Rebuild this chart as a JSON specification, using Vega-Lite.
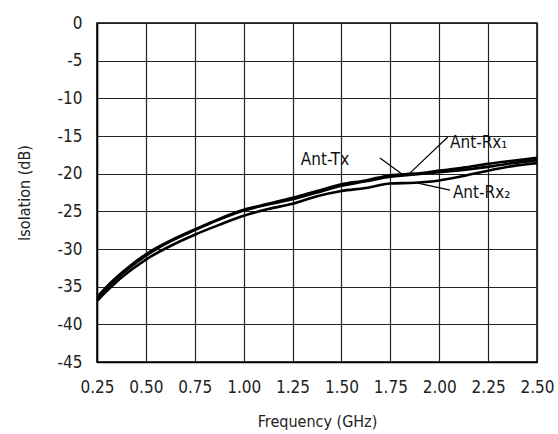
{
  "$schema": "https://vega.github.io/schema/vega-lite/v6.json",
  "autosize": "none",
  "width": 440,
  "height": 339,
  "padding": {"left": 97, "top": 23, "right": 21, "bottom": 72},
  "background": "white",
  "config": {
    "view": {"stroke": "black", "strokeWidth": 1.5},
    "font": "DejaVu Sans Condensed, sans-serif",
    "axis": {
      "labelFont": "DejaVu Sans Condensed, sans-serif",
      "titleFont": "DejaVu Sans Condensed, sans-serif",
      "labelFontSize": 17,
      "titleFontSize": 16,
      "titleFontWeight": "normal",
      "labelColor": "#222",
      "titleColor": "#222",
      "gridColor": "#222",
      "gridWidth": 1.2,
      "gridOpacity": 1,
      "domainColor": "black",
      "domainWidth": 1.5,
      "ticks": false,
      "labelOverlap": false
    }
  },
  "datasets": {
    "curves": [
      {"series": "Ant-Tx", "f": 0.25, "v": -36.4}, {"series": "Ant-Tx", "f": 0.3, "v": -35.0}, {"series": "Ant-Tx", "f": 0.375, "v": -33.2}, {"series": "Ant-Tx", "f": 0.5, "v": -30.7}, {"series": "Ant-Tx", "f": 0.625, "v": -28.9}, {"series": "Ant-Tx", "f": 0.75, "v": -27.4}, {"series": "Ant-Tx", "f": 0.875, "v": -26.0}, {"series": "Ant-Tx", "f": 1.0, "v": -24.8}, {"series": "Ant-Tx", "f": 1.125, "v": -24.0}, {"series": "Ant-Tx", "f": 1.25, "v": -23.2}, {"series": "Ant-Tx", "f": 1.375, "v": -22.3}, {"series": "Ant-Tx", "f": 1.5, "v": -21.4}, {"series": "Ant-Tx", "f": 1.625, "v": -20.9}, {"series": "Ant-Tx", "f": 1.75, "v": -20.2}, {"series": "Ant-Tx", "f": 1.875, "v": -20.0}, {"series": "Ant-Tx", "f": 2.0, "v": -19.6}, {"series": "Ant-Tx", "f": 2.125, "v": -19.2}, {"series": "Ant-Tx", "f": 2.25, "v": -18.7}, {"series": "Ant-Tx", "f": 2.375, "v": -18.3}, {"series": "Ant-Tx", "f": 2.5, "v": -17.9},
      {"series": "Ant-Rx1", "f": 0.25, "v": -36.6}, {"series": "Ant-Rx1", "f": 0.3, "v": -35.2}, {"series": "Ant-Rx1", "f": 0.375, "v": -33.4}, {"series": "Ant-Rx1", "f": 0.5, "v": -30.9}, {"series": "Ant-Rx1", "f": 0.625, "v": -29.0}, {"series": "Ant-Rx1", "f": 0.75, "v": -27.5}, {"series": "Ant-Rx1", "f": 0.875, "v": -26.1}, {"series": "Ant-Rx1", "f": 1.0, "v": -24.9}, {"series": "Ant-Rx1", "f": 1.125, "v": -24.1}, {"series": "Ant-Rx1", "f": 1.25, "v": -23.4}, {"series": "Ant-Rx1", "f": 1.375, "v": -22.5}, {"series": "Ant-Rx1", "f": 1.5, "v": -21.6}, {"series": "Ant-Rx1", "f": 1.625, "v": -21.0}, {"series": "Ant-Rx1", "f": 1.75, "v": -20.4}, {"series": "Ant-Rx1", "f": 1.875, "v": -20.1}, {"series": "Ant-Rx1", "f": 2.0, "v": -19.8}, {"series": "Ant-Rx1", "f": 2.125, "v": -19.5}, {"series": "Ant-Rx1", "f": 2.25, "v": -19.1}, {"series": "Ant-Rx1", "f": 2.375, "v": -18.6}, {"series": "Ant-Rx1", "f": 2.5, "v": -18.2},
      {"series": "Ant-Rx2", "f": 0.25, "v": -36.9}, {"series": "Ant-Rx2", "f": 0.3, "v": -35.6}, {"series": "Ant-Rx2", "f": 0.375, "v": -33.8}, {"series": "Ant-Rx2", "f": 0.5, "v": -31.4}, {"series": "Ant-Rx2", "f": 0.625, "v": -29.6}, {"series": "Ant-Rx2", "f": 0.75, "v": -28.1}, {"series": "Ant-Rx2", "f": 0.875, "v": -26.8}, {"series": "Ant-Rx2", "f": 1.0, "v": -25.6}, {"series": "Ant-Rx2", "f": 1.125, "v": -24.7}, {"series": "Ant-Rx2", "f": 1.25, "v": -24.0}, {"series": "Ant-Rx2", "f": 1.375, "v": -23.0}, {"series": "Ant-Rx2", "f": 1.5, "v": -22.3}, {"series": "Ant-Rx2", "f": 1.625, "v": -21.9}, {"series": "Ant-Rx2", "f": 1.75, "v": -21.3}, {"series": "Ant-Rx2", "f": 1.875, "v": -21.2}, {"series": "Ant-Rx2", "f": 2.0, "v": -20.9}, {"series": "Ant-Rx2", "f": 2.125, "v": -20.3}, {"series": "Ant-Rx2", "f": 2.25, "v": -19.6}, {"series": "Ant-Rx2", "f": 2.375, "v": -19.0}, {"series": "Ant-Rx2", "f": 2.5, "v": -18.6}
    ],
    "labelsCenter": [
      {"text": "Ant-Tx", "f": 1.416, "v": -18.2}
    ],
    "labelsLeft": [
      {"text": "Ant-Rx₁", "f": 2.055, "v": -15.9},
      {"text": "Ant-Rx₂", "f": 2.07, "v": -22.6}
    ],
    "leaders": [
      {"f": 1.697, "v": -17.93, "f2": 1.809, "v2": -20.05},
      {"f": 2.044, "v": -15.14, "f2": 1.85, "v2": -19.92},
      {"f": 2.055, "v": -22.18, "f2": 1.891, "v2": -21.25}
    ]
  },
  "layer": [
    {
      "data": {"name": "curves"},
      "mark": {"type": "line", "color": "black", "strokeWidth": 2.6, "interpolate": "monotone", "clip": true},
      "encoding": {
        "x": {
          "field": "f", "type": "quantitative",
          "scale": {"domain": [0.25, 2.5], "nice": false, "zero": false},
          "axis": {"values": [0.25, 0.5, 0.75, 1.0, 1.25, 1.5, 1.75, 2.0, 2.25, 2.5], "tickCount": 20, "format": ".2f", "title": "Frequency (GHz)", "labelPadding": 17, "titlePadding": 18, "labelFlush": false}
        },
        "y": {
          "field": "v", "type": "quantitative",
          "scale": {"domain": [-45, 0], "nice": false, "zero": false},
          "axis": {"values": [-45, -40, -35, -30, -25, -20, -15, -10, -5, 0], "tickCount": 20, "labelExpr": "datum.value == 0 ? '0' : '-' + abs(datum.value)", "title": "Isolation (dB)", "labelPadding": 15, "titlePadding": 25, "labelFlush": false}
        },
        "detail": {"field": "series"}
      }
    },
    {
      "data": {"name": "leaders"},
      "mark": {"type": "rule", "color": "black", "strokeWidth": 1.2},
      "encoding": {
        "x": {"field": "f", "type": "quantitative"},
        "y": {"field": "v", "type": "quantitative"},
        "x2": {"field": "f2"},
        "y2": {"field": "v2"}
      }
    },
    {
      "data": {"name": "labelsCenter"},
      "mark": {"type": "text", "fontSize": 17, "color": "#111", "baseline": "middle", "align": "center", "font": "DejaVu Sans Condensed, sans-serif"},
      "encoding": {
        "x": {"field": "f", "type": "quantitative"},
        "y": {"field": "v", "type": "quantitative"},
        "text": {"field": "text"}
      }
    },
    {
      "data": {"name": "labelsLeft"},
      "mark": {"type": "text", "fontSize": 17, "color": "#111", "baseline": "middle", "align": "left", "font": "DejaVu Sans Condensed, sans-serif"},
      "encoding": {
        "x": {"field": "f", "type": "quantitative"},
        "y": {"field": "v", "type": "quantitative"},
        "text": {"field": "text"}
      }
    }
  ]
}
